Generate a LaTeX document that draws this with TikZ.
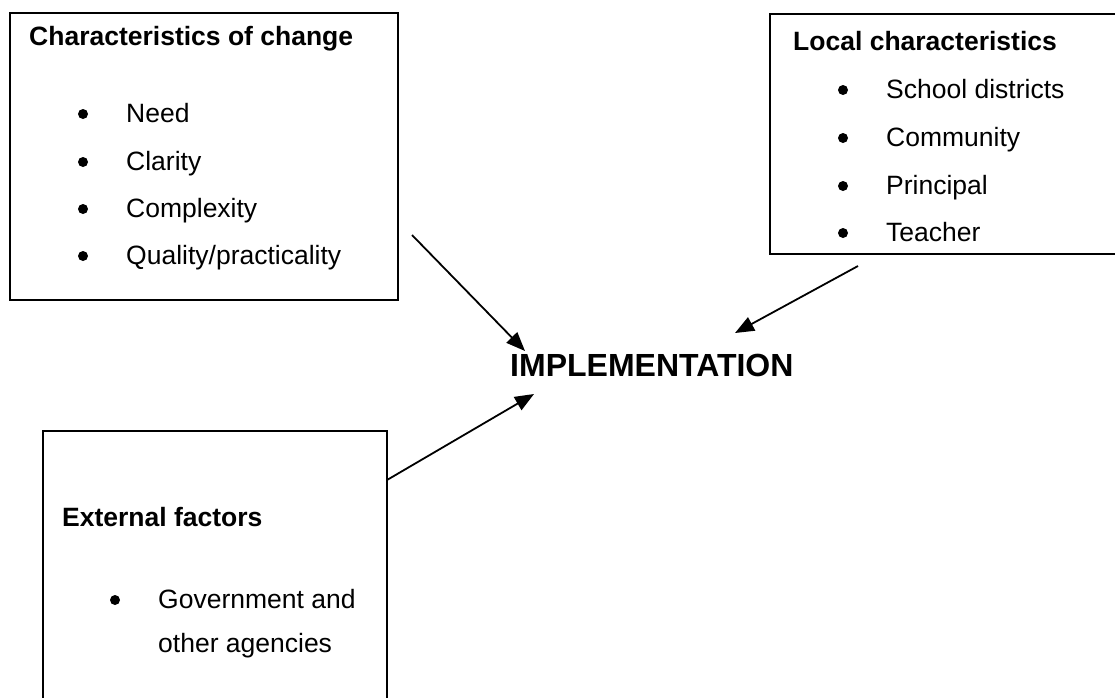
\documentclass[tikz,border=0pt]{standalone}
\usepackage{fontspec}
\setmainfont{Liberation Sans}
\usetikzlibrary{arrows.meta}
\begin{document}
\begin{tikzpicture}[x=1pt,y=-1pt,
  box/.style={draw,line width=2pt,inner sep=0pt,anchor=north west},
  txt/.style={anchor=base west,inner sep=0pt,font=\fontsize{26.5}{30}\selectfont},
  ttl/.style={txt,font=\fontsize{26.5}{30}\selectfont\bfseries},
  bul/.style={circle,fill,inner sep=0pt,minimum size=10pt},
  big/.style={anchor=base west,inner sep=0pt,font=\fontsize{32}{36}\selectfont\bfseries},
  arr/.style={-{Triangle[length=19pt,width=15pt]},line width=1.8pt}]
\useasboundingbox (0,0) rectangle (1115,697);
\clip (0,0) rectangle (1115,697);
% boxes
\node[box,minimum width=388pt,minimum height=287pt] (chg) at (9,12) {};
\node[box,minimum width=360pt,minimum height=240pt] (loc) at (769,13) {};
\node[box,minimum width=344pt,minimum height=290pt] (ext) at (42,430) {};
% box 1 text
\node[ttl] (chgT) at (29,45) {Characteristics of change};
\node[bul] (b11) at (83,114) {};
\node[txt] (t11) at (126,122) {Need};
\node[bul] (b12) at (83,162) {};
\node[txt] (t12) at (126,170) {Clarity};
\node[bul] (b13) at (83,209) {};
\node[txt] (t13) at (126,217) {Complexity};
\node[bul] (b14) at (83,256) {};
\node[txt] (t14) at (126,264) {Quality/practicality};
% box 2 text
\node[ttl] (locT) at (793,50) {Local characteristics};
\node[bul] (b21) at (843,90) {};
\node[txt] (t21) at (886,98) {School districts};
\node[bul] (b22) at (843,138) {};
\node[txt] (t22) at (886,146) {Community};
\node[bul] (b23) at (843,186) {};
\node[txt] (t23) at (886,194) {Principal};
\node[bul] (b24) at (843,233) {};
\node[txt] (t24) at (886,241) {Teacher};
% box 3 text
\node[ttl] (extT) at (62,526) {External factors};
\node[bul] (b31) at (115,600) {};
\node[txt] (t31) at (158,608) {Government and};
\node[txt] (t32) at (158,652) {other agencies};
% centre
\node[big] (impl) at (510,376) {IMPLEMENTATION};
% arrows
\coordinate (s1) at (412,235);
\coordinate (e1) at (525,351);
\coordinate (s2) at (858,266);
\coordinate (e2) at (735,333);
\coordinate (s3) at (387,480);
\coordinate (e3) at (534,394);
\draw[arr] (s1) -- (e1);
\draw[arr] (s2) -- (e2);
\draw[arr] (s3) -- (e3);
\end{tikzpicture}
\end{document}
